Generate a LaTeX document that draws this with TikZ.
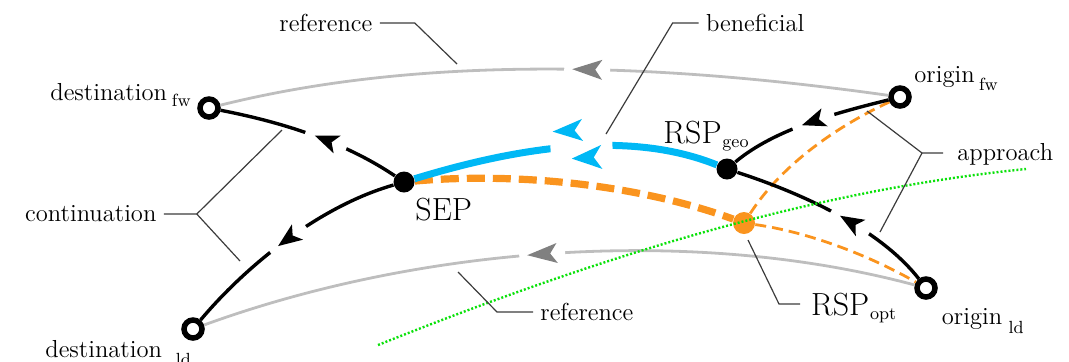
\documentclass[tikz,border=0pt]{standalone}
\usetikzlibrary{decorations.markings}

\definecolor{refgray}{RGB}{190,190,190}
\definecolor{headgray}{RGB}{128,128,128}
\definecolor{benblue}{RGB}{0,184,245}
\definecolor{optorange}{RGB}{250,148,30}
\definecolor{axisgreen}{RGB}{10,225,10}
\definecolor{leadergray}{RGB}{60,60,60}

% kern, drop, text
\newcommand\lowsub[3]{\kern#1\raisebox{-#2}{\fontsize{8.8}{10}\selectfont #3}}

\tikzset{
  small/.style={inner sep=0pt, anchor=base west, font=\fontsize{12.3}{15}\selectfont},
  big/.style={inner sep=0pt, anchor=base west, font=\fontsize{16}{19}\selectfont},
  hollow/.style={circle, draw=black, fill=white, line width=2.75pt, minimum size=9pt, inner sep=0pt},
  dot/.style={circle, fill=black, minimum size=10.5pt, inner sep=0pt},
  optdot/.style={circle, fill=optorange, minimum size=11pt, inner sep=0pt},
  refline/.style={draw=refgray, line width=1.4pt},
  pathline/.style={draw=black, line width=1.7pt},
  benline/.style={draw=benblue, line width=3.5pt},
  optthick/.style={draw=optorange, line width=3.6pt, dash pattern=on 9pt off 4pt},
  optthin/.style={draw=optorange, line width=1.4pt, dash pattern=on 5.5pt off 3pt},
  axisline/.style={draw=axisgreen, line width=1.2pt, dash pattern=on 1pt off 1pt},
  leader/.style={draw=leadergray, line width=0.6pt},
  % arrowhead in the middle of a path, with the path cut open around it
  blackhead/.style={postaction={decorate, decoration={markings, mark=at position #1 with {
      \fill[white] (-22,-4) rectangle (22,4);
      \fill[black] (12,0) -- (-12,9.5) -- (-6,0) -- (-12,-9.5) -- cycle;}}}},
  grayhead/.style={postaction={decorate, decoration={markings, mark=at position #1 with {
      \fill[white] (-23,-3.5) rectangle (23,3.5);
      \fill[headgray] (15,0) -- (-15,10) -- (-8,0) -- (-15,-10) -- cycle;}}}},
  bluehead/.style={postaction={decorate, decoration={markings, mark=at position #1 with {
      \fill[white] (-31,-6) rectangle (31,6);
      \fill[benblue] ([shift={(-4.7,12)}]15,0) -- ([shift={(-4.7,12)}]-15,12) -- ([shift={(-4.7,12)}]-7,0) -- ([shift={(-4.7,12)}]-15,-12) -- cycle;
      \fill[benblue] ([shift={(13,-16)}]15,0) -- ([shift={(13,-16)}]-15,11) -- ([shift={(13,-16)}]-7,0) -- ([shift={(13,-16)}]-15,-11) -- cycle;}}}}
}

\begin{document}
\begin{tikzpicture}[x=0.5pt, y=0.5pt]
\useasboundingbox (0,0) rectangle (1069,-361);

% end points and stations
\node[hollow] (destfw) at (209,-108) {};
\node[hollow] (destld) at (193,-329) {};
\node[hollow] (originfw) at (900,-97) {};
\node[hollow] (originld) at (926,-288) {};
\node[dot] (SEP) at (404,-182) {};
\node[dot] (RSPgeo) at (727,-169) {};
\node[optdot] (RSPopt) at (744,-223) {};

% reference trajectories
\draw[refline, grayhead=0.45] (originfw) .. controls +(172:230) and +(14:230) .. (destfw);
\draw[refline, grayhead=0.52] (originld) .. controls +(165:242) and +(20:242) .. (destld);

% optimal rendezvous alternatives
\draw[optthick] (SEP) .. controls +(5:113) and +(160:113) .. (RSPopt);
\draw[optthin] (RSPopt) .. controls +(57:70) and +(205:70) .. (originfw);
\draw[optthin] (RSPopt) .. controls +(-8:65) and +(150:65) .. (originld);

% beneficial common segment
\draw[benline, bluehead=0.447] (RSPgeo) .. controls +(158:110) and +(17:110) .. (SEP);

% approach and continuation
\draw[pathline, blackhead=0.47] (originfw) .. controls +(194:63) and +(40:63) .. (RSPgeo);
\draw[pathline, blackhead=0.42] (originld) .. controls +(128:70) and +(-18:90) .. (RSPgeo);
\draw[pathline, blackhead=0.415] (SEP) .. controls +(146:75) and +(-11:70) .. (destfw);
\draw[pathline, blackhead=0.5] (SEP) .. controls +(196:90) and +(50:80) .. (destld);

% separating line
\coordinate (axisA) at (378,-345);
\coordinate (axisB) at (1026,-169);
\draw[axisline] (axisA) .. controls (594,-258.6) and (810,-190.6) .. (axisB);

% labels
\node[small] (reftop) at (279,-31) {reference};
\node[small] (benef) at (705.6,-31) {beneficial};
\node[small] (destfwL) at (50,-100) {destination\lowsub{2.5pt}{3.35pt}{fw}};
\node[small] (originfwL) at (914,-82.6) {origin\lowsub{2.2pt}{3.8pt}{fw}};
\node[big] (rspgeoL) at (663,-143) {RSP\lowsub{0.4pt}{2.2pt}{geo}};
\node[small] (approachL) at (957,-160) {approach};
\node[small] (contL) at (24.8,-221) {continuation};
\node[big] (sepL) at (415,-220) {SEP};
\node[small] (refbot) at (540,-320) {reference};
\node[big] (rspoptL) at (810.7,-315) {RSP\lowsub{0.4pt}{2.2pt}{opt}};
\node[small] (originldL) at (941.5,-324.4) {origin\lowsub{3.2pt}{4.3pt}{ld}};
\node[small] (destldL) at (45,-357) {destination\lowsub{6.9pt}{4.2pt}{ld}};

% leader lines
\coordinate (tipRefTop) at (457,-64);
\coordinate (tipBenef) at (606,-134);
\coordinate (tipContUp) at (282,-130);
\coordinate (tipContDown) at (240,-261);
\coordinate (tipApprUp) at (867,-111);
\coordinate (tipApprDown) at (880,-232);
\coordinate (tipRefBot) at (458,-272);
\coordinate (tipOpt) at (748,-240);

\draw[leader] ([shift={(7,8)}]reftop.base east) -- ++(35,0) -- (tipRefTop);
\draw[leader] ([shift={(-7,8)}]benef.base west) -- ++(-26,0) -- (tipBenef);
\draw[leader] ([shift={(7,7)}]contL.base east) -- ++(33,0) coordinate (contFork) -- (tipContUp);
\draw[leader] (contFork) -- (tipContDown);
\draw[leader] ([shift={(-14,7)}]approachL.base west) -- ++(-21,0) coordinate (apprFork) -- (tipApprUp);
\draw[leader] (apprFork) -- (tipApprDown);
\draw[leader] ([shift={(-7,8)}]refbot.base west) -- ++(-36,0) -- (tipRefBot);
\draw[leader] ([shift={(-10.7,11)}]rspoptL.base west) -- ++(-21,0) -- (tipOpt);
\end{tikzpicture}
\end{document}
